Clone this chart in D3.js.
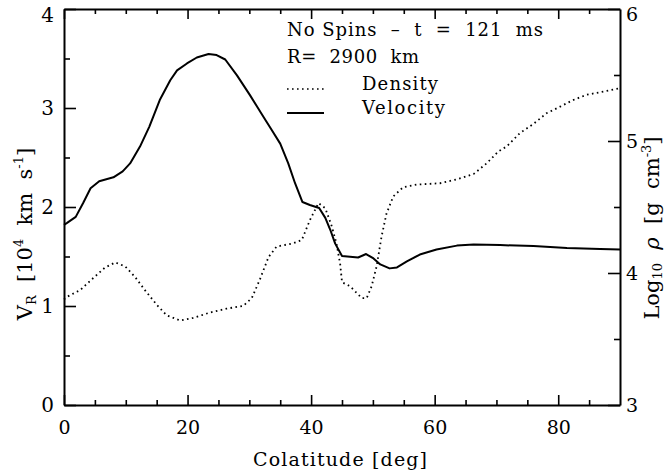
<!DOCTYPE html>
<html>
<head>
<meta charset="utf-8">
<script src="https://cdn.jsdelivr.net/npm/d3@7"></script>
<style>
  body { margin: 0; background: #fff; }
  text { font-family: "DejaVu Serif", serif; fill: #000; }
</style>
</head>
<body>
<div id="chart"></div>
<script>
// colatitude [deg] and radial velocity [10^4 km/s]
const velDeg = [0, 0.5, 1.9, 3.1, 4.3, 5.7, 8.0, 9.5, 10.7, 12.3, 13.8, 15.5, 17.2, 18.3, 19.9, 21.5, 23.4, 24.7, 26.1, 28.0, 30.1, 32.3, 33.6, 35.0, 36.3, 37.4, 38.6, 39.8, 41.3, 42.3, 43.1, 43.9, 45.0, 47.6, 48.9, 50.1, 51.2, 52.7, 53.9, 55.5, 57.6, 60.3, 63.6, 66.3, 70.6, 76.0, 81.4, 86.8, 90];
const velVal = [1.82, 1.84, 1.90, 2.04, 2.19, 2.26, 2.30, 2.36, 2.44, 2.61, 2.81, 3.08, 3.28, 3.38, 3.45, 3.51, 3.545, 3.535, 3.49, 3.33, 3.13, 2.91, 2.78, 2.64, 2.44, 2.24, 2.05, 2.02, 1.99, 1.89, 1.77, 1.63, 1.505, 1.49, 1.525, 1.48, 1.42, 1.38, 1.39, 1.45, 1.52, 1.57, 1.61, 1.62, 1.615, 1.605, 1.585, 1.575, 1.57];

// colatitude [deg] and log10 density [g/cm^3]
const denDeg = [0, 0.5, 2.6, 4.7, 6.6, 8.3, 9.9, 11.5, 13.1, 15.0, 16.6, 18.8, 20.9, 23.6, 26.3, 29.0, 30.4, 31.7, 33.1, 34.4, 37.1, 38.5, 39.8, 41.2, 42.3, 43.3, 44.1, 44.7, 45.0, 46.3, 48.2, 49.0, 49.8, 50.6, 51.4, 52.2, 53.3, 54.9, 57.1, 60.9, 63.6, 66.3, 68.4, 70.3, 71.7, 73.8, 76.0, 78.1, 80.3, 82.4, 84.6, 86.8, 88.9, 90];
const denVal = [3.80, 3.82, 3.87, 3.96, 4.04, 4.08, 4.05, 3.97, 3.87, 3.76, 3.68, 3.64, 3.66, 3.70, 3.73, 3.75, 3.81, 3.95, 4.12, 4.20, 4.225, 4.25, 4.40, 4.53, 4.49, 4.36, 4.225, 4.07, 3.93, 3.90, 3.81, 3.81, 3.90, 4.05, 4.275, 4.45, 4.58, 4.65, 4.67, 4.68, 4.71, 4.75, 4.83, 4.92, 4.96, 5.06, 5.13, 5.21, 5.26, 5.31, 5.35, 5.37, 5.39, 5.40];

const xMajor = [0, 20, 40, 60, 80];
const xMinor = [5, 10, 15, 25, 30, 35, 45, 50, 55, 65, 70, 75, 85];
const vMajor = [0, 1, 2, 3, 4];
const vMinor = [0.5, 1.5, 2.5, 3.5];
const rMajor = [3, 4, 5, 6];
const rMinor = [3.5, 4.5, 5.5];

const legendTitle = ["No Spins  \u2013  t  =  121  ms", "R=  2900  km"];
const legendItems = ["Density", "Velocity"];

const W = 666, H = 475;
const m = { left: 64, right: 46, top: 9, bottom: 70 };
const iw = W - m.left - m.right, ih = H - m.top - m.bottom;

const svg = d3.select("#chart").append("svg").attr("width", W).attr("height", H);
const g = svg.append("g").attr("transform", `translate(${m.left},${m.top})`);

const x = d3.scaleLinear().domain([0, 90]).range([0, iw]);
const yV = d3.scaleLinear().domain([0, 4]).range([ih, 0]);
const yR = d3.scaleLinear().domain([3, 6]).range([ih, 0]);

function styleAxis(sel, fontSize) {
    sel.attr("font-family", "DejaVu Serif");
    sel.selectAll("path.domain").attr("stroke", "#000").attr("stroke-width", 2);
    sel.selectAll(".tick line").attr("stroke", "#000").attr("stroke-width", 1.6);
    sel.selectAll(".tick text").attr("font-size", fontSize);
}

// bottom
g.append("g").attr("transform", `translate(0,${ih})`)
    .call(d3.axisBottom(x).tickValues(xMajor).tickSizeInner(-10).tickSizeOuter(0).tickPadding(18).tickFormat(d3.format("d")))
    .call(s => styleAxis(s, 19));
g.append("g").attr("transform", `translate(0,${ih})`)
    .call(d3.axisBottom(x).tickValues(xMinor).tickSizeInner(-5).tickSizeOuter(0).tickFormat(""))
    .call(s => styleAxis(s, 19)).select(".domain").remove();
// top
g.append("g")
    .call(d3.axisTop(x).tickValues(xMajor).tickSizeInner(-10).tickSizeOuter(0).tickFormat(""))
    .call(s => styleAxis(s, 19));
g.append("g")
    .call(d3.axisTop(x).tickValues(xMinor).tickSizeInner(-5).tickSizeOuter(0).tickFormat(""))
    .call(s => styleAxis(s, 19)).select(".domain").remove();
// left
g.append("g")
    .call(d3.axisLeft(yV).tickValues(vMajor).tickSizeInner(-12).tickSizeOuter(0).tickPadding(10).tickFormat(d3.format("d")))
    .call(s => styleAxis(s, 20));
g.append("g")
    .call(d3.axisLeft(yV).tickValues(vMinor).tickSizeInner(-6).tickSizeOuter(0).tickFormat(""))
    .call(s => styleAxis(s, 20)).select(".domain").remove();
// right
g.append("g").attr("transform", `translate(${iw},0)`)
    .call(d3.axisRight(yR).tickValues(rMajor).tickSizeInner(-12).tickSizeOuter(0).tickPadding(6).tickFormat(d3.format("d")))
    .call(s => styleAxis(s, 19));
g.append("g").attr("transform", `translate(${iw},0)`)
    .call(d3.axisRight(yR).tickValues(rMinor).tickSizeInner(-6).tickSizeOuter(0).tickFormat(""))
    .call(s => styleAxis(s, 19)).select(".domain").remove();

// keep the top labels inside the picture
g.selectAll(".tick text").filter(function () {
    const t = d3.select(this.parentNode).attr("transform");
    return t && /,0\.5\)|,0\)/.test(t);
}).attr("dy", "0.6em");

// curves
const lineV = d3.line().x((d, i) => x(velDeg[i])).y(d => yV(d));
const lineR = d3.line().x((d, i) => x(denDeg[i])).y(d => yR(d));

g.append("path").attr("d", lineR(denVal))
    .attr("fill", "none").attr("stroke", "#000").attr("stroke-width", 1.8)
    .attr("stroke-dasharray", "1.6 3.4");
g.append("path").attr("d", lineV(velVal))
    .attr("fill", "none").attr("stroke", "#000").attr("stroke-width", 2)
    .attr("stroke-linejoin", "round");

// legend
const lg = svg.append("g");
lg.append("text").attr("x", 287).attr("y", 36).attr("font-size", 18)
    .attr("textLength", 256).attr("lengthAdjust", "spacing")
    .style("white-space", "pre").text(legendTitle[0]);
lg.append("text").attr("x", 287).attr("y", 63).attr("font-size", 18)
    .attr("textLength", 132).attr("lengthAdjust", "spacing")
    .style("white-space", "pre").text(legendTitle[1]);
lg.append("line").attr("x1", 287).attr("x2", 324).attr("y1", 89).attr("y2", 89)
    .attr("stroke", "#000").attr("stroke-width", 1.6).attr("stroke-dasharray", "1.6 3.4");
lg.append("line").attr("x1", 287).attr("x2", 324).attr("y1", 113).attr("y2", 113)
    .attr("stroke", "#000").attr("stroke-width", 2);
lg.append("text").attr("x", 362).attr("y", 90).attr("font-size", 18)
    .attr("textLength", 76).attr("lengthAdjust", "spacing").text(legendItems[0]);
lg.append("text").attr("x", 362).attr("y", 114).attr("font-size", 18)
    .attr("textLength", 83).attr("lengthAdjust", "spacing").text(legendItems[1]);

// axis titles
svg.append("text").attr("x", m.left + iw / 2 - 2).attr("y", 466)
    .attr("text-anchor", "middle").attr("font-size", 19)
    .attr("textLength", 174).attr("lengthAdjust", "spacing")
    .text("Colatitude [deg]");

const yl = svg.append("text").attr("transform", `translate(32,234) rotate(-90)`)
    .attr("text-anchor", "middle").attr("font-size", 21).style("white-space", "pre");
yl.append("tspan").text("V");
yl.append("tspan").attr("font-size", 13).attr("dy", 4).text("R");
yl.append("tspan").attr("dy", -4).text("  [10");
yl.append("tspan").attr("font-size", 13).attr("dy", -9).text("4");
yl.append("tspan").attr("dy", 9).text("  km  s");
yl.append("tspan").attr("font-size", 13).attr("dy", -9).text("-1");
yl.append("tspan").attr("dy", 9).text("]");

const rl = svg.append("text").attr("transform", `translate(659,228) rotate(-90)`)
    .attr("text-anchor", "middle").attr("font-size", 21).style("white-space", "pre");
rl.append("tspan").text("Log");
rl.append("tspan").attr("font-size", 13).attr("dy", 3).text("10");
rl.append("tspan").attr("dy", -3).style("font-style", "italic").text("  \u03c1");
rl.append("tspan").text("  [g  cm");
rl.append("tspan").attr("font-size", 13).attr("dy", -8).text("-3");
rl.append("tspan").attr("dy", 8).text("]");
</script>
</body>
</html>
